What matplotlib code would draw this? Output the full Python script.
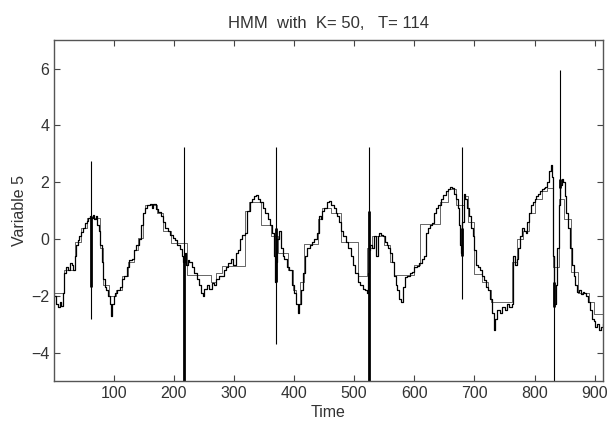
import numpy as np
import matplotlib
matplotlib.use('Agg')
import matplotlib.pyplot as plt

sig_t = [1, 4, 7, 10, 13, 16, 18, 21, 24, 27, 30, 33, 35, 37, 40, 43, 46, 49, 52, 55, 58, 61, 63, 65, 67,
         70, 72, 75, 78, 80, 82, 85, 88, 91, 94, 96, 98, 100, 103, 106, 110, 114, 118, 122, 126, 130, 134,
         138, 142, 145, 148, 152, 156, 160, 163, 166, 170, 174, 178, 182, 186, 190, 194, 198, 202, 206, 210,
         213, 216, 218, 220, 223, 226, 230, 234, 238, 242, 245, 248, 251, 255, 259, 263, 267, 271, 275, 279,
         283, 287, 291, 295, 299, 303, 306, 310, 314, 318, 322, 326, 330, 334, 337, 340, 344, 348, 352, 356,
         360, 364, 366, 368, 370, 372, 375, 378, 381, 384, 388, 392, 396, 400, 404, 406, 409, 412, 415, 418,
         422, 426, 430, 434, 438, 441, 444, 447, 450, 454, 458, 462, 466, 469, 472, 475, 478, 482, 486, 490,
         494, 498, 502, 506, 510, 514, 518, 521, 523, 525, 527, 530, 533, 536, 539, 542, 545, 548, 551, 554,
         557, 560, 563, 566, 569, 572, 575, 578, 581, 584, 588, 592, 596, 600, 604, 608, 612, 616, 619, 622,
         626, 630, 633, 636, 640, 644, 648, 652, 656, 660, 663, 666, 669, 672, 674, 676, 678, 680, 682, 685,
         688, 691, 694, 697, 700, 703, 706, 709, 712, 716, 720, 723, 726, 729, 732, 735, 738, 742, 746, 750,
         754, 758, 762, 764, 767, 770, 773, 776, 779, 782, 785, 788, 791, 794, 797, 800, 803, 806, 809, 812,
         815, 818, 821, 824, 827, 829, 831, 833, 835, 838, 841, 843, 845, 847, 850, 853, 856, 859, 862, 865,
         868, 871, 874, 877, 880, 883, 886, 889, 892, 895, 898, 901, 904, 907, 910, 913]
sig_v = [-2.0, -2.3, -2.4, -2.2, -2.35, -1.9, -1.2, -1.0, -1.1, -0.85, -0.9, -1.1, -0.6, -0.2, -0.05, 0.1,
         0.25, 0.4, 0.55, 0.65, 0.75, 0.8, 0.75, 0.85, 0.7, 0.8, 0.5, 0.3, -0.2, -0.8, -1.4, -1.7, -1.8, -2.0,
         -2.3, -2.7, -2.3, -2.0, -1.9, -1.8, -1.7, -1.4, -1.3, -1.0, -0.75, -0.7, -0.4, -0.2, 0.0, 0.5, 0.9,
         1.1, 1.2, 1.25, 1.1, 1.25, 1.05, 0.95, 0.8, 0.6, 0.4, 0.3, 0.15, 0.05, -0.05, -0.2, -0.35, -0.6, -0.8,
         -0.5, -0.9, -0.75, -0.8, -1.0, -1.2, -1.4, -1.6, -1.9, -2.0, -1.75, -1.6, -1.75, -1.55, -1.6, -1.4,
         -1.3, -1.3, -1.1, -1.0, -0.85, -0.7, -0.9, -0.5, -0.4, 0.0, 0.15, 0.2, 1.0, 1.3, 1.4, 1.5, 1.55, 1.4,
         1.3, 1.1, 0.9, 0.7, 0.5, 0.2, -0.6, -1.5, -0.8, 0.0, 0.3, -0.3, -0.6, -0.7, -1.0, -1.1, -1.6, -1.9,
         -2.3, -2.6, -2.3, -1.8, -1.2, -0.6, -0.3, -0.2, -0.1, 0.0, 0.2, 0.8, 0.7, 1.0, 1.1, 1.3, 1.35, 1.2,
         1.1, 0.9, 0.8, 0.6, 0.3, 0.1, -0.1, -0.3, -0.6, -0.9, -1.2, -1.5, -1.6, -1.75, -1.8, -1.9, -1.2, -0.4,
         -0.2, -0.3, 0.1, -0.6, 0.1, 0.2, 0.15, 0.1, -0.1, -0.2, -0.3, -0.5, -0.8, -1.3, -1.6, -1.8, -2.1, -2.2,
         -1.7, -1.35, -1.3, -1.2, -1.15, -1.0, -0.95, -0.85, -0.7, -0.6, 0.2, 0.4, 0.5, 0.55, 0.9, 1.1, 1.2,
         1.4, 1.55, 1.7, 1.75, 1.85, 1.8, 1.6, 1.4, 1.1, 0.5, -0.2, -0.5, 0.6, 1.6, 1.4, 1.1, 0.8, 0.4, 0.1,
         -0.4, -0.9, -1.0, -1.1, -1.3, -1.45, -1.7, -1.8, -2.1, -2.6, -3.2, -2.8, -2.5, -2.6, -2.4, -2.5, -2.3,
         -2.4, -2.3, -0.6, -0.9, -0.7, -0.3, 0.1, 0.4, 0.3, 0.2, 0.6, 0.9, 1.2, 1.3, 1.4, 1.5, 1.6, 1.7, 1.75,
         1.8, 1.85, 2.0, 2.4, 2.6, 2.2, -0.6, -2.3, -1.6, -0.3, 1.2, 1.9, 2.1, 2.0, 1.5, 0.9, 0.4, -0.3, -0.9,
         -1.3, -1.6, -1.85, -1.8, -1.95, -1.85, -1.9, -2.0, -2.2, -2.5, -2.8, -2.9, -3.1, -3.0, -3.2, -3.1, -3.0]

# sudden jumps (thin vertical strokes) and the dense dark parts around them
spike_t = [63, 217, 370, 525, 680, 832, 843]
spike_lo = [-2.8, -5.0, -3.7, -5.0, -2.1, -5.0, 1.5]
spike_hi = [2.75, 3.25, 3.25, 3.25, 3.25, -0.6, 5.95]
dense_lo = [-1.7, -5.0, -1.5, -5.0, -0.6, -2.4, 1.8]
dense_hi = [0.8, -0.6, 0.4, 1.0, 0.4, -1.5, 2.1]

# HMM state means (step estimate)
step_t = [1, 17, 35, 45, 55, 78, 82, 92, 104, 114, 124, 134, 140, 148, 152, 172, 182, 195, 222, 262, 270,
          280, 318, 325, 345, 362, 374, 390, 398, 404, 410, 416, 440, 446, 462, 478, 506, 522, 530, 550, 560,
          566, 600, 610, 642, 656, 670, 682, 690, 699, 712, 722, 727, 762, 770, 780, 790, 800, 812, 821, 831,
          840, 849, 860, 872, 890, 899, 913]
step_v = [-1.9, -1.1, -0.1, 0.4, 0.75, -0.3, -1.6, -2.0, -1.8, -1.3, -0.8, -0.4, 0.05, 0.9, 1.2, 0.9, 0.3,
          -0.15, -1.25, -1.5, -1.2, -0.95, 1.0, 1.3, 0.48, 0.1, -0.5, -1.1, -1.8, -2.3, -1.5, -0.16, 0.7, 1.1,
          0.9, -0.1, -1.3, -0.3, 0.1, -0.2, -0.8, -1.28, -0.9, 0.54, 1.3, 1.75, 1.2, 1.5, 0.6, -1.22, -1.5,
          -1.8, -2.22, -0.8, 0.0, 0.3, 0.9, 1.4, 1.7, 1.78, -1.0, 1.4, 0.72, -1.16, -1.9, -2.2, -2.63, -2.63]

xticks = [100, 200, 300, 400, 500, 600, 700, 800, 900]
yticks = [-4, -2, 0, 2, 4, 6]

plt.rcParams['font.family'] = ['Liberation Sans', 'DejaVu Sans']
fig = plt.figure(figsize=(6.08, 4.23), dpi=100)
ax = fig.add_axes([0.089, 0.099, 0.902, 0.806])

ax.plot(step_t, step_v, drawstyle='steps-post', color='#666666', lw=0.7)
ax.plot(sig_t, sig_v, drawstyle='steps-post', color='black', lw=0.9)
ax.vlines(spike_t, spike_lo, spike_hi, color='black', lw=0.8)
ax.vlines(spike_t, dense_lo, dense_hi, color='black', lw=2.0)

ax.set_xlim(1, 913)
ax.set_ylim(-5, 7)
ax.set_xticks(xticks)
ax.set_yticks(yticks)
ax.tick_params(direction='in', length=4, width=0.8, top=True, right=True,
               labelsize=11.5, labelcolor='#333333', color='#444444')
for s in ax.spines.values():
    s.set_color('#555555')
    s.set_linewidth(1.0)
ax.set_xlabel('Time', fontsize=11.5, color='#333333', labelpad=3)
ax.set_ylabel('Variable 5', fontsize=11.5, color='#333333', labelpad=3)
ax.set_title('HMM  with  K= 50,   T= 114', fontsize=12, color='#333333', pad=9)

fig.savefig('out.png', dpi=100)
